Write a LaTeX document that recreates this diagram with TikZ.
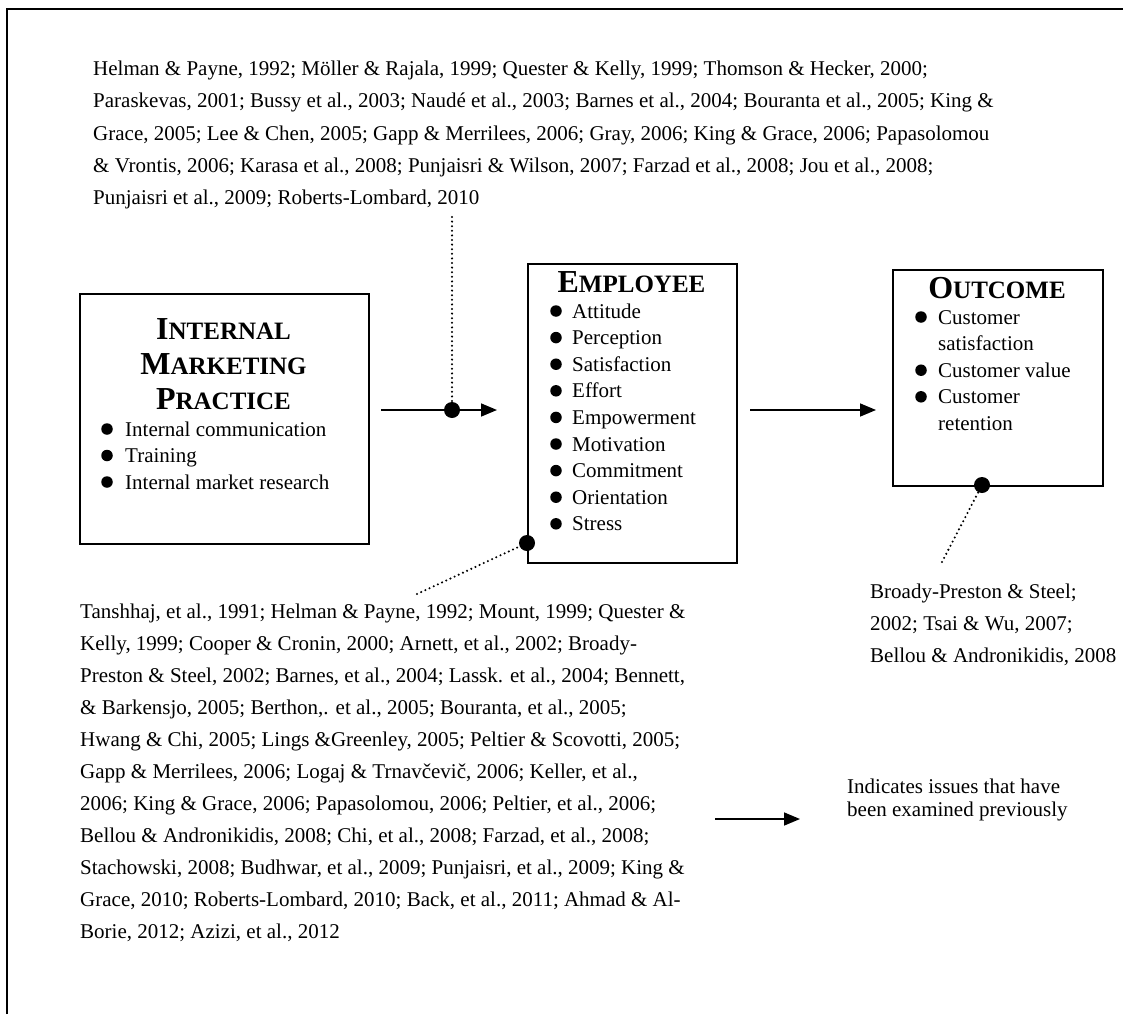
\documentclass[tikz,border=0pt]{standalone}
\usepackage{fontspec}
\setmainfont{Liberation Serif}
\usetikzlibrary{arrows.meta}
\newcommand\scap[2]{{\fontsize{32}{34}\selectfont #1}{\fontsize{25}{34}\selectfont #2}}
\begin{document}
\begin{tikzpicture}[x=1pt,y=-1pt,
  txt/.style={anchor=base west,inner sep=0pt,font=\fontsize{21}{32}\selectfont},
  ttl/.style={anchor=base,inner sep=0pt,font=\bfseries},
  box/.style={draw,line width=1.6pt,rectangle,inner sep=0pt,anchor=north west},
  arr/.style={line width=1.6pt,-{Triangle[length=16pt,width=13pt]}},
  dots/.style={line width=2.3pt,dash pattern=on 0pt off 4.6pt,line cap=round},
  dotc/.style={circle,fill,inner sep=0pt,minimum size=16pt},
  bul/.style={circle,fill,inner sep=0pt,minimum size=11.5pt}]
\useasboundingbox (0,0) rectangle (1123,1014);
% frame
\draw[line width=2pt] (7,1014) -- (7,9) -- (1123,9);
% boxes
\node[box,minimum width=289pt,minimum height=250pt] (imp) at (79,293) {};
\node[box,minimum width=209pt,minimum height=299pt] (emp) at (527,263) {};
\node[box,minimum width=210pt,minimum height=216pt] (out) at (892,269) {};
% titles
\node[ttl] (impt1) at (223.5,339) {\scap{I}{NTERNAL}};
\node[ttl] (impt2) at (223.5,374) {\scap{M}{ARKETING}};
\node[ttl] (impt3) at (223.5,409) {\scap{P}{RACTICE}};
\node[ttl] (empt) at (631.5,292) {\scap{E}{MPLOYEE}};
\node[ttl] (outt) at (997,298) {\scap{O}{UTCOME}};
% IMP items
\foreach \t [count=\i from 0] in {Internal communication,Training,Internal market research}{
  \node[txt] (impi\i) at (125,{436+26.5*\i}) {\t};
  \node[bul] (impb\i) at (107,{429+26.5*\i}) {};
}
% EMP items
\foreach \t [count=\i from 0] in {Attitude,Perception,Satisfaction,Effort,Empowerment,Motivation,Commitment,Orientation,Stress}{
  \node[txt] (empi\i) at (572,{318+26.6*\i}) {\t};
  \node[bul] (empb\i) at (556,{311+26.6*\i}) {};
}
% OUT items
\foreach \t [count=\i from 0] in {Customer,satisfaction,Customer value,Customer,retention}{
  \node[txt] (outi\i) at (938,{324+26.6*\i}) {\t};
}
\foreach \i in {0,2,3}{
  \node[bul] (outb\i) at (921,{317+26.6*\i}) {};
}
% arrows
\coordinate (a1s) at (381,410);
\coordinate (a1e) at (497,410);
\coordinate (a2s) at (750,410);
\coordinate (a2e) at (876,410);
\coordinate (lgs) at (715,819);
\coordinate (lge) at (800,819);
\draw[arr] (a1s) -- (a1e);
\draw[arr] (a2s) -- (a2e);
\draw[arr] (lgs) -- (lge);
% dotted links
\coordinate (c1) at (452,217);
\coordinate (c2) at (417,594);
\coordinate (c3) at (942,562);
\node[dotc] (d1) at (452,410) {};
\node[dotc] (d2) at (527,543) {};
\node[dotc] (d3) at (982,485) {};
\draw[dots] (c1) -- (d1.center);
\draw[dots] (c2) -- (d2.center);
\draw[dots] (c3) -- (d3.center);
% top citations
\foreach \t [count=\i from 0] in {
 {Helman \& Payne, 1992; Möller \& Rajala, 1999; Quester \& Kelly, 1999; Thomson \& Hecker, 2000;},
 {Paraskevas, 2001; Bussy et al., 2003; Naudé et al., 2003; Barnes et al., 2004; Bouranta et al., 2005; King \&},
 {Grace, 2005; Lee \& Chen, 2005; Gapp \& Merrilees, 2006; Gray, 2006; King \& Grace, 2006; Papasolomou},
 {\& Vrontis, 2006; Karasa et al., 2008; Punjaisri \& Wilson, 2007; Farzad et al., 2008; Jou et al., 2008;},
 {Punjaisri et al., 2009; Roberts-Lombard, 2010}}{
  \node[txt] (top\i) at (93,{76+32*\i}) {\t};
}
% bottom citations
\foreach \t [count=\i from 0] in {
 {Tanshhaj, et al., 1991; Helman \& Payne, 1992; Mount, 1999; Quester \&},
 {Kelly, 1999; Cooper \& Cronin, 2000; Arnett, et al., 2002; Broady-},
 {Preston \& Steel, 2002; Barnes, et al., 2004; Lassk. et al., 2004; Bennett,},
 {\& Barkensjo, 2005; Berthon,. et al., 2005; Bouranta, et al., 2005;},
 {Hwang \& Chi, 2005; Lings \&Greenley, 2005; Peltier \& Scovotti, 2005;},
 {Gapp \& Merrilees, 2006; Logaj \& Trnavčevič, 2006; Keller, et al.,},
 {2006; King \& Grace, 2006; Papasolomou, 2006; Peltier, et al., 2006;},
 {Bellou \& Andronikidis, 2008; Chi, et al., 2008; Farzad, et al., 2008;},
 {Stachowski, 2008; Budhwar, et al., 2009; Punjaisri, et al., 2009; King \&},
 {Grace, 2010; Roberts-Lombard, 2010; Back, et al., 2011; Ahmad \& Al-},
 {Borie, 2012; Azizi, et al., 2012}}{
  \node[txt] (bot\i) at (80,{618+32*\i}) {\t};
}
% outcome citations
\foreach \t [count=\i from 0] in {
 {Broady-Preston \& Steel;},
 {2002; Tsai \& Wu, 2007;},
 {Bellou \& Andronikidis, 2008}}{
  \node[txt] (oc\i) at (870,{598+32*\i}) {\t};
}
% legend
\node[txt] (lg0) at (847,793) {Indicates issues that have};
\node[txt] (lg1) at (847,816) {been examined previously};
\end{tikzpicture}
\end{document}
